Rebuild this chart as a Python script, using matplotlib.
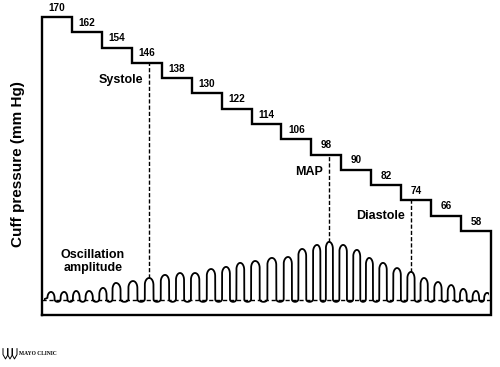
import numpy as np
import matplotlib.pyplot as plt
from matplotlib.patches import Rectangle

# cuff pressure steps (mm Hg), one per deflation step
steps = [170, 162, 154, 146, 138, 130, 122, 114, 106, 98, 90, 82, 74, 66, 58]

# oscillation peaks: beat time (in step units) and amplitude (mm Hg scale)
beat_t = [0.30, 0.74, 1.14, 1.57, 2.04, 2.47, 3.04, 3.58, 4.11, 4.61, 5.11, 5.65,
          6.15, 6.62, 7.12, 7.68, 8.22, 8.69, 9.19, 9.59, 10.06, 10.52, 10.93,
          11.39, 11.86, 12.33, 12.76, 13.23, 13.67, 14.07, 14.50, 14.87]
beat_amp = [4.2, 4.2, 4.7, 4.7, 6.3, 8.9, 9.9, 11.5, 13.1, 14.1, 14.1, 16.2, 17.3,
            19.4, 20.4, 22.0, 22.5, 26.7, 28.8, 30.4, 28.8, 26.2, 22.0, 19.4,
            16.7, 14.7, 11.5, 9.4, 7.8, 5.8, 4.7, 3.7]

# marked beats and their label positions (pressure level of label)
labels = {"Systole": (7, 137.0), "MAP": (19, 89.0), "Diastole": (25, 66.0)}

baseline = 21.9
bottom = 14.1
dip = 1.0

plt.rcParams['font.family'] = ['Liberation Sans', 'DejaVu Sans']

fig = plt.figure(figsize=(5, 3.67), dpi=100)
ax = fig.add_axes([0, 0, 1, 1])
ax.set_xlim(-1.403, 15.30)
ax.set_ylim(-13.2, 178.9)
ax.axis('off')

n = len(steps)
# staircase outline
sx = [0, 0]
sy = [bottom, steps[0]]
for i, p in enumerate(steps):
    sx += [i, i + 1]
    sy += [p, p]
sx += [n, n, 0]
sy += [bottom, bottom, bottom]
ax.plot(sx, sy, color='black', lw=1.7, solid_joinstyle='miter')

for i, p in enumerate(steps):
    ax.text(i + 0.5, p + 2.3, str(p), ha='center', va='bottom',
            fontsize=7.2, fontweight='bold')

# oscillation waveform: rounded hairpin pulses
bt = np.array(beat_t)
ba = np.array(beat_amp)
ext_t = np.concatenate([[bt[0] - 0.44], bt, [bt[-1] + 0.40]])
ext_a = np.concatenate([[ba[0]], ba, [ba[-1]]])
r_top, r_bot = 3.6, 1.4
ang = np.linspace(0, np.pi, 40)
wx, wy = [ext_t[0]], [baseline - dip]
for i in range(1, len(ext_t) - 1):
    gl = ext_t[i] - ext_t[i - 1]
    gr = ext_t[i + 1] - ext_t[i]
    a = ext_a[i]
    rt = min(r_top, 0.6 * (a + dip))
    # top arc
    xs = np.where(ang < np.pi / 2, ext_t[i] - 0.27 * gl * np.cos(ang),
                  ext_t[i] - 0.27 * gr * np.cos(ang))
    ys = baseline + a - rt + rt * np.sin(ang)
    wx += list(xs)
    wy += list(ys)
    # trough arc towards next beat
    rb = min(r_bot, 0.4 * (a + dip))
    mid = ext_t[i] + gr / 2
    xs = mid - 0.23 * gr * np.cos(ang)
    ys = baseline - dip + rb - rb * np.sin(ang)
    wx += list(xs)
    wy += list(ys)
wave, = ax.plot(wx, wy, color='black', lw=1.3)
clip = Rectangle((0.06, 0), n - 0.12, 100, transform=ax.transData)
wave.set_clip_path(clip)

ax.plot([0, n], [baseline, baseline], color='black', lw=1.0, ls=(0, (3, 2)))

for name, (idx, ly) in labels.items():
    tx = beat_t[idx]
    level = steps[int(tx)]
    ax.plot([tx, tx], [baseline + beat_amp[idx], level], color='black',
            lw=1.0, ls=(0, (3, 1.5)))
    ax.text(tx - 0.2, ly, name, ha='right', va='center',
            fontsize=9, fontweight='bold')

ax.text(1.70, 41.8, "Oscillation\namplitude", ha='center', va='center',
        fontsize=9, fontweight='bold', linespacing=1.1)

fig.text(0.036, 0.553, "Cuff pressure (mm Hg)", rotation=90, ha='center',
         va='center', fontsize=11, fontweight='bold')

# small logo
fig.text(0.038, 0.036, "MAYO CLINIC", fontsize=4.0, family='Liberation Serif',
         fontweight='bold', ha='left', va='center')
for k in range(3):
    x0 = 0.006 + k * 0.009
    shield_x = [x0, x0, x0 + 0.005, x0 + 0.010, x0 + 0.010]
    shield_y = [0.050, 0.034, 0.022, 0.034, 0.050]
    fig.add_artist(plt.Line2D(shield_x, shield_y, color='black', lw=0.7))

fig.savefig("out.png", dpi=100)
